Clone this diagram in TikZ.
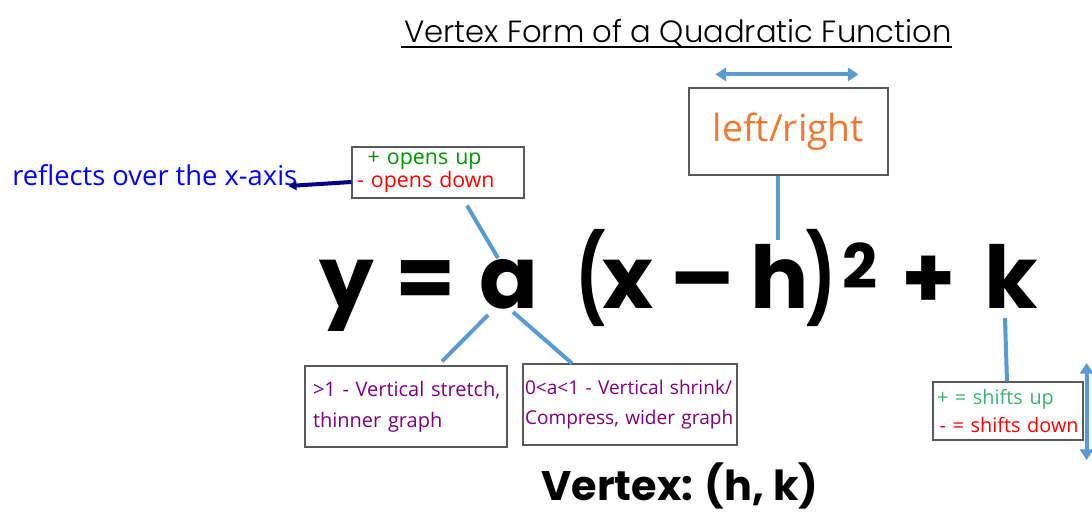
\documentclass[tikz,border=0pt]{standalone}
\usepackage{fontspec}
\setmainfont{Open Sans}
\newfontfamily\geofont{Poppins}
\newfontfamily\thinfont{Poppins}[UprightFont=* Light]
\usetikzlibrary{arrows.meta, positioning, calc}

\definecolor{linkblue}{RGB}{91,155,213}
\definecolor{lrorange}{RGB}{240,120,50}
\definecolor{upgreen}{RGB}{0,150,0}
\definecolor{downred}{RGB}{255,0,0}
\definecolor{reflblue}{RGB}{0,0,255}
\definecolor{arrownavy}{RGB}{0,0,140}
\definecolor{notepurple}{RGB}{128,0,128}
\definecolor{shiftgreen}{RGB}{60,179,113}
\definecolor{boxgray}{RGB}{90,90,90}

\begin{document}
\begin{tikzpicture}[
    x=0.75pt, y=-0.75pt,
    note/.style={rectangle, draw=boxgray, line width=0.9pt, inner ysep=0pt, align=left},
    eq/.style={inner sep=0pt, anchor=base, font={\geofont\bfseries\fontsize{65}{70}\selectfont}},
    link/.style={linkblue, line width=3pt},
    bothway/.style={{Triangle[length=8pt,width=10pt]}-{Triangle[length=8pt,width=10pt]}, linkblue, line width=3pt},
    toreflect/.style={-{Triangle[length=6pt,width=7pt]}, arrownavy, line width=3pt}
]
\useasboundingbox (0,0) rectangle (1092,513);

% title
\node[inner sep=0pt, anchor=base, font={\thinfont\fontsize{23}{25}\selectfont}] (title) at (678,43) {Vertex Form of a Quadratic Function};
\draw[line width=2pt] ($(title.base west)+(-3,4)$) -- ($(title.base east)+(0,4)$);

% the equation
\node[eq] (eqy)     at (347,308) {y};
\node[eq] (eqeq)    at (426,308) {=};
\node[eq] (eqa)     at (509,308) {a};
\node[eq] (eqlp)    at (591,308) {\scalebox{0.7}[1]{(}};
\node[eq] (eqx)     at (628,308) {x};
\node[eq] (eqminus) at (703,308) {\scalebox{1.1}[1]{–}};
\node[eq] (eqh)     at (780,308) {h};
\node[eq] (eqrp)    at (821,308) {\scalebox{0.7}[1]{)}};
\node[eq, font={\geofont\bfseries\fontsize{46}{48}\selectfont}] (eqsq) at (860,289) {2};
\node[eq] (eqplus)  at (929,308) {+};
\node[eq] (eqk)     at (1011,308) {k};

% notes
\node[note, inner xsep=0pt, minimum width=149.25pt, minimum height=65.25pt, text=lrorange,
      font=\fontsize{28}{30}\selectfont] (lrbox) at (788.5,131.5) {left/right};
\node[note, inner xsep=3.75pt, text width=121.5pt, minimum height=38.25pt,
      font=\fontsize{16}{17}\selectfont] (signbox) at (438,172.5)
      {\hspace*{8pt}\textcolor{upgreen}{+ opens up}\\\textcolor{downred}{- opens down}};
\node[anchor=west, inner sep=0pt, text=reflblue, font=\fontsize{20.5}{22}\selectfont] (reflect) at (12,175) {reflects over the x-axis};
\node[note, inner xsep=2.75pt, text width=146pt, minimum height=60.75pt, text=notepurple,
      font=\fontsize{15}{23}\selectfont] (stretchbox) at (406,406.5)
      {\hspace*{3.25pt}>1 - Vertical stretch,\\\hspace*{3.25pt}thinner graph};
\node[note, inner xsep=0.5pt, text width=159.5pt, minimum height=60.75pt, text=notepurple,
      font=\fontsize{14.3}{23}\selectfont] (shrinkbox) at (630,404.5)
      {\hspace*{1pt}0<a<1 - Vertical shrink/\\\hspace*{1pt}Compress, wider graph};
\node[note, inner xsep=3pt, text width=106.5pt, minimum height=43.5pt,
      font=\fontsize{14.9}{21}\selectfont] (shiftbox) at (1008,411)
      {\textcolor{shiftgreen}{+ = shifts up}\\\hspace*{2pt}\textcolor{downred}{- = shifts down}};
\node[inner sep=0pt, font={\geofont\bfseries\fontsize{31}{33}\selectfont}] (vertex) at (680,486) {Vertex: (h, k)};

% connectors
\coordinate (aTop)   at (498,258);
\coordinate (aLeft)  at (488,315);
\coordinate (aRight) at (513,312);
\coordinate (hTop)   at (778,240);
\coordinate (kBot)   at (1005,318);
\draw[link] (lrbox.south -| hTop) -- (hTop);
\draw[link] ($(signbox.south)+(29,7)$) -- (aTop);
\draw[link] ($(stretchbox.north)+(36,-4)$) -- (aLeft);
\draw[link] ($(shrinkbox.north)+(-58,0)$) -- (aRight);
\draw[link] (kBot) -- ($(shiftbox.north)+(-1,0)$);
\draw[toreflect] ($(signbox.west)+(0,9.5)$) -- ($(reflect.east)+(-9,11)$);
\draw[bothway] ($(lrbox.north)+(-73,-13)$) -- ($(lrbox.north)+(70,-13)$);
\draw[bothway] ($(shiftbox.east)+(3,-48)$) -- ($(shiftbox.east)+(3,49)$);
\end{tikzpicture}
\end{document}
